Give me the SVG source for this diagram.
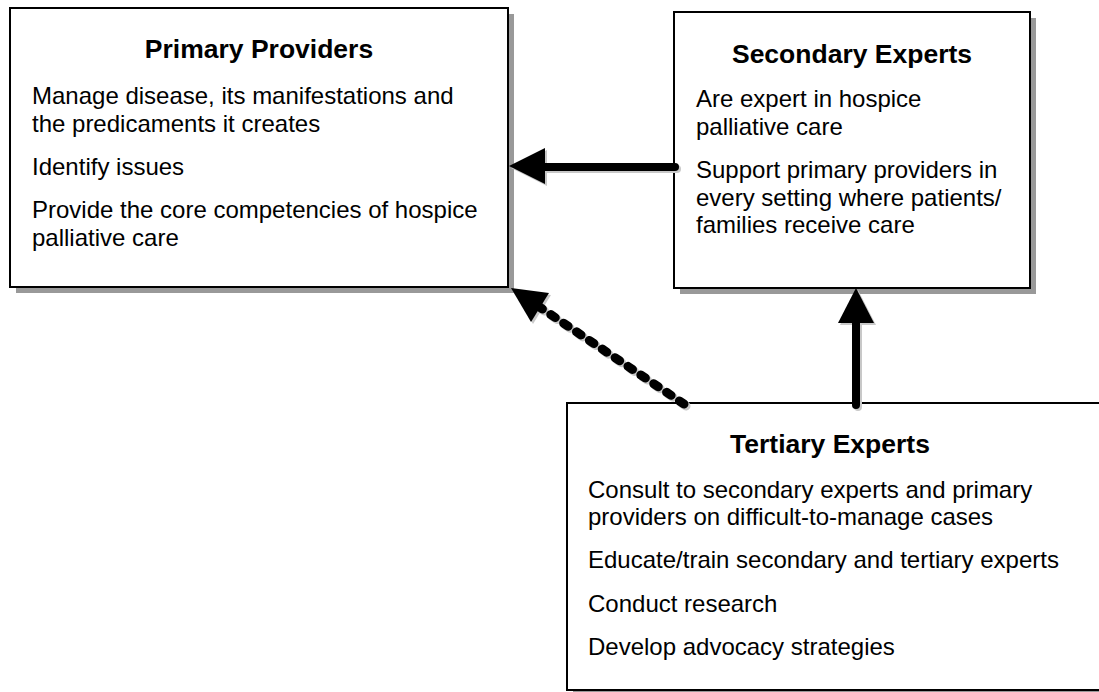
<svg xmlns="http://www.w3.org/2000/svg" width="1099" height="692" viewBox="0 0 1099 692">
<style>
.box{fill:#fff;stroke:#000;stroke-width:2}
.shadow{fill:#999;stroke:none}
.title{font-family:"Liberation Sans",Arial,sans-serif;font-size:26.5px;font-weight:bold;fill:#000;text-anchor:middle}
.body{font-family:"Liberation Sans",Arial,sans-serif;font-size:24px;fill:#000}
.line{stroke:#000;stroke-width:8;stroke-linecap:round;fill:none}
.lineSh{stroke:#c8c8c8;stroke-width:8;stroke-linecap:round;fill:none}
.head{fill:#000}
.headSh{fill:#c8c8c8}
.dash{stroke-width:9;stroke-dasharray:5.5 10}
</style>
<rect x="0" y="0" width="1099" height="692" fill="#fff"/>
<g id="primary">
<rect class="shadow" x="16" y="14" width="498" height="279"/>
<rect class="box" x="10" y="8" width="498" height="279"/>
<text class="title" x="259" y="58">Primary Providers</text>
<text class="body" x="32" y="104">Manage disease, its manifestations and</text>
<text class="body" x="32" y="131.5">the predicaments it creates</text>
<text class="body" x="32" y="175">Identify issues</text>
<text class="body" x="32" y="218">Provide the core competencies of hospice</text>
<text class="body" x="32" y="245.5">palliative care</text>
</g>
<g id="secondary">
<rect class="shadow" x="680" y="18" width="356" height="276"/>
<rect class="box" x="674" y="12" width="356" height="276"/>
<text class="title" x="852" y="63">Secondary Experts</text>
<text class="body" x="696" y="107">Are expert in hospice</text>
<text class="body" x="696" y="134.5">palliative care</text>
<text class="body" x="696" y="178">Support primary providers in</text>
<text class="body" x="696" y="205.5">every setting where patients/</text>
<text class="body" x="696" y="233">families receive care</text>
</g>
<g id="tertiary">
<rect class="shadow" x="573" y="409" width="560" height="287"/>
<rect class="box" x="567" y="403" width="560" height="287"/>
<text class="title" x="830" y="453">Tertiary Experts</text>
<text class="body" x="588" y="498">Consult to secondary experts and primary</text>
<text class="body" x="588" y="525">providers on difficult-to-manage cases</text>
<text class="body" x="588" y="568">Educate/train secondary and tertiary experts</text>
<text class="body" x="588" y="612">Conduct research</text>
<text class="body" x="588" y="655">Develop advocacy strategies</text>
</g>
<g id="connectors">
<g transform="translate(2,2)">
<line class="lineSh" x1="675" y1="167" x2="540" y2="167"/>
<polygon class="headSh" points="509,166 545,148 545,184"/>
<line class="lineSh" x1="856" y1="405" x2="856" y2="318"/>
<polygon class="headSh" points="856,288 838,323 874,323"/>
<line class="lineSh dash" x1="684" y1="404" x2="538" y2="306"/>
<polygon class="headSh" points="511,288 531,322 549,293"/>
</g>
<line class="line" x1="675" y1="167" x2="540" y2="167"/>
<polygon class="head" points="509,166 545,148 545,184"/>
<line class="line" x1="856" y1="405" x2="856" y2="318"/>
<polygon class="head" points="856,288 838,323 874,323"/>
<line class="line dash" x1="684" y1="404" x2="538" y2="306"/>
<polygon class="head" points="511,288 531,322 549,293"/>
</g>
</svg>
